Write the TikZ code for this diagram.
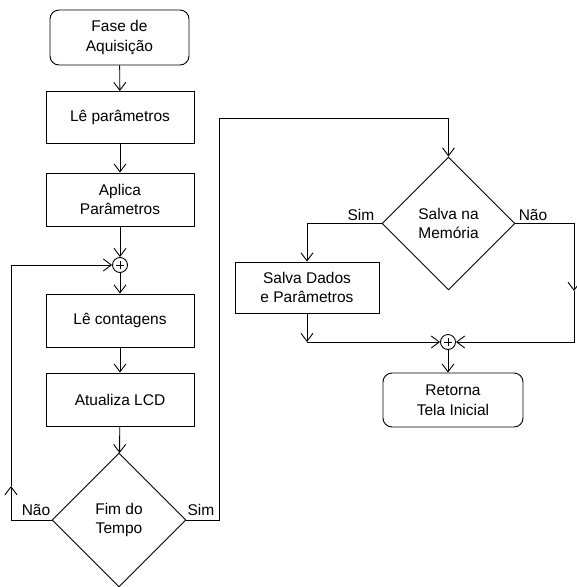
\documentclass[tikz,border=0pt]{standalone}
\usepackage{fontspec}
\setmainfont{Liberation Sans}
\usetikzlibrary{arrows.meta,shapes.geometric}
\begin{document}
\begin{tikzpicture}[x=1pt,y=-1pt,line width=0.9pt,
  >={Straight Barb[length=8pt,width=12pt,line width=0.9pt]},
  every node/.style={font=\fontsize{15.5}{19.5}\selectfont, align=center, inner sep=0pt},
  proc/.style={draw, minimum width=148pt, minimum height=52pt},
  term/.style={draw, rounded corners=9pt},
  decis/.style={draw, diamond, aspect=1, minimum size=134pt},
  junc/.style={draw, circle, minimum size=15pt},
  lbl/.style={}]
\useasboundingbox (0,0) rectangle (577,587);
% left column
\node[term, minimum width=139pt, minimum height=55pt] (start) at (119.5,37.5) {Fase de\\Aquisição};
\node[proc] (le) at (120,117.5) {Lê parâmetros};
\node[proc, minimum height=53pt] (aplica) at (120,199.5) {Aplica\\Parâmetros};
\node[junc] (plus1) at (120,265) {};
\node[proc, minimum height=53pt] (lecont) at (120,320.5) {Lê contagens};
\node[proc, minimum height=53pt] (atual) at (120,399.5) {Atualiza LCD};
\node[decis] (fim) at (119,520) {Fim do\\Tempo};
% right column
\node[decis, minimum size=133pt] (salva) at (448.5,223.5) {Salva na\\Memória};
\node[proc, minimum width=144pt, minimum height=51pt] (dados) at (307,287.5) {Salva Dados\\e Parâmetros};
\node[junc] (plus2) at (448,342) {};
\node[term, minimum width=140pt, minimum height=54pt] (ret) at (453,400) {Retorna\\Tela Inicial};
% plus signs
\foreach \p in {plus1,plus2}{
  \draw[line width=0.8pt] ([xshift=-4pt]\p.center) -- ([xshift=4pt]\p.center);
  \draw[line width=0.8pt] ([yshift=-4pt]\p.center) -- ([yshift=4pt]\p.center);
}
% labels
\node[lbl] (lnao1) at (36,510) {Não};
\node[lbl] (lsim1) at (201,510) {Sim};
\node[lbl] (lsim2) at (361,215) {Sim};
\node[lbl] (lnao2) at (533,215) {Não};
% coordinates
\coordinate (nl) at (11,520);
\coordinate (na) at (11,486);
\coordinate (nt) at (11,265);
\coordinate (s1) at (219,520);
\coordinate (s2) at (219,118);
\coordinate (s3) at (448.5,118);
\coordinate (n1) at (574,223.5);
\coordinate (n2) at (574,291);
\coordinate (n3) at (574,342);
\coordinate (b1) at (307,342);
% connectors
\draw[->] (start) -- (le);
\draw[->] (le) -- (aplica);
\draw[->] (aplica) -- (plus1);
\draw[->] (plus1) -- (lecont);
\draw[->] (lecont) -- (atual);
\draw[->] (atual) -- (fim);
\draw[->] (fim.west) -- (nl) -- (na);
\draw[->] (na) -- (nt) -- (plus1.west);
\draw[->] (fim.east) -- (s1) -- (s2) -- (s3) -- (salva.north);
\draw[->] (salva.west) -| (dados.north);
\draw[->] (salva.east) -- (n1) -- (n2);
\draw[->] (n2) -- (n3) -- (plus2.east);
\draw[->] (dados.south) -- (b1);
\draw[->] (b1) -- (plus2.west);
\draw[->] (plus2.south) -- (plus2.south |- ret.north);
\end{tikzpicture}
\end{document}
